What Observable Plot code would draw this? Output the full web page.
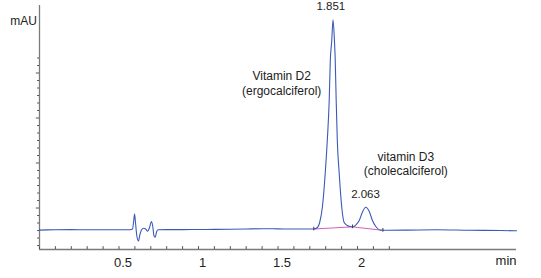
<!DOCTYPE html>
<html><head><meta charset="utf-8">
<script src="https://cdn.jsdelivr.net/npm/d3@7"></script>
<script src="https://cdn.jsdelivr.net/npm/@observablehq/plot@0.6"></script>
<style>body{margin:0;background:#fff}#chart svg{display:block}</style>
</head><body><div id="chart"></div>
<script>
// retention time (min)
const times = [0.00,0.05,0.10,0.20,0.30,0.40,0.50,0.570,0.585,0.592,0.598,0.604,0.612,0.622,0.632,0.642,0.655,0.668,0.680,0.692,0.704,0.712,0.720,0.728,0.736,0.745,0.80,0.90,1.00,1.10,1.20,1.30,1.40,1.50,1.60,1.70,1.725,1.748,1.762,1.779,1.797,1.810,1.822,1.829,1.838,1.846,1.855,1.860,1.866,1.873,1.885,1.901,1.916,1.936,1.952,1.969,1.989,2.011,2.030,2.052,2.074,2.094,2.115,2.141,2.18,2.30,2.50,2.70,2.90,3.00];
// detector signal (mAU)
const signal = [3.05,3.08,3.10,3.12,3.10,3.10,3.10,3.10,3.20,4.20,5.20,4.00,2.30,1.60,2.50,3.10,3.30,3.20,2.90,3.40,4.20,3.60,2.30,2.10,2.80,3.10,3.12,3.12,3.14,3.15,3.17,3.20,3.24,3.22,3.20,3.20,3.20,3.40,4.07,6.10,10.6,15.0,20.3,25.7,28.3,31.1,28.3,25.7,20.3,15.0,10.6,6.10,4.07,3.67,3.53,3.49,3.73,4.33,5.40,6.10,5.53,4.33,3.53,3.07,3.04,3.05,3.10,3.03,3.00,2.96];
// integration baseline
const baseTimes = [1.725, 1.969, 2.160];
const baseValues = [3.20, 3.49, 3.02];
// peaks
const peakTimes = [1.851, 2.063];
const peakHeights = [31.1, 6.1];
const peakLabels = ["1.851", "2.063"];
const compoundNames = ["Vitamin D2\n(ergocalciferol)", "vitamin D3\n(cholecalciferol)"];
// axes
const xTickValues = [0.5, 1, 1.5, 2];
const xTickLabels = ["0.5", "1", "1.5", "2"];
const xMinorTicks = [0,0.1,0.2,0.3,0.4,0.5,0.6,0.7,0.8,0.9,1,1.1,1.2,1.3,1.4,1.5,1.6,1.7,1.8,1.9,2,2.1,2.2];
const yMinorTicks = [1,2,3,4,5,7,8,9,10,11,13,14,15,16,17,19,20,21,22,23,25,26];
const yMajorTicks = [6,12,18,24];

const yMin = 0.47, yMax = 33.0;
const chrom = times.map((t, i) => ({t, v: signal[i]}));
const base = baseTimes.map((t, i) => ({t, v: baseValues[i]}));
const peaks = peakTimes.map((t, i) => ({t, h: peakHeights[i], label: peakLabels[i], name: compoundNames[i]}));
const axisColor = "#7a7a7a";
const txt = "#222";

const chart = Plot.plot({
  width: 541, height: 278,
  marginLeft: 39, marginRight: 25, marginTop: 5, marginBottom: 29,
  x: {domain: [0, 3.0], axis: null},
  y: {domain: [yMin, yMax], axis: null},
  style: {fontFamily: "'Liberation Sans', Arial, sans-serif", background: "#fff", color: txt},
  marks: [
    Plot.ruleY([yMin], {stroke: axisColor, strokeWidth: 1.3}),
    Plot.ruleX([0], {stroke: axisColor, strokeWidth: 1.3}),
    Plot.ruleX(xMinorTicks, {x: d => d, y1: yMin, y2: yMin + 0.38, stroke: "#555", strokeWidth: 1}),
    Plot.ruleY(yMinorTicks, {y: d => d, x1: -0.012, x2: 0, stroke: "#555", strokeWidth: 1}),
    Plot.ruleY(yMajorTicks, {y: d => d, x1: -0.02, x2: 0, stroke: "#555", strokeWidth: 1}),
    Plot.text(xTickValues, {x: d => d, y: yMin, text: (d, i) => xTickLabels[i], dy: 13, dx: 4, fontSize: 13, fill: txt}),
    Plot.text(["mAU"], {frameAnchor: "top-left", dx: -2.5, dy: 10.5, textAnchor: "end", fontSize: 12, fill: txt}),
    Plot.text(["min"], {frameAnchor: "bottom-right", dy: 15, fontSize: 13, fill: txt}),
    Plot.line(base, {x: "t", y: "v", stroke: "#d060c0", strokeWidth: 1}),
    Plot.line(chrom, {x: "t", y: "v", stroke: "#3a5ab8", strokeWidth: 1.1, curve: "monotone-x"}),
    Plot.ruleX(base, {x: "t", y1: d => d.v - 0.25, y2: d => d.v + 0.25, stroke: "#444", strokeWidth: 1}),
    Plot.text(peaks, {x: "t", y: "h", text: "label", dx: [-3, -2][0], dy: -13, fontSize: 11.5, fill: txt, filter: (d, i) => i === 0}),
    Plot.text(peaks, {x: "t", y: "h", text: "label", dx: -2, dy: -13.4, fontSize: 11.5, fill: txt, filter: (d, i) => i === 1}),
    Plot.text([compoundNames[0]], {x: 1.523, y: 22.77, text: d => d, fontSize: 12, lineHeight: 1.25, fill: txt}),
    Plot.text([compoundNames[1]], {x: 2.304, y: 11.91, text: d => d, fontSize: 12, lineHeight: 1.2, fill: txt})
  ]
});
document.getElementById("chart").appendChild(chart);
</script>
</body></html>
